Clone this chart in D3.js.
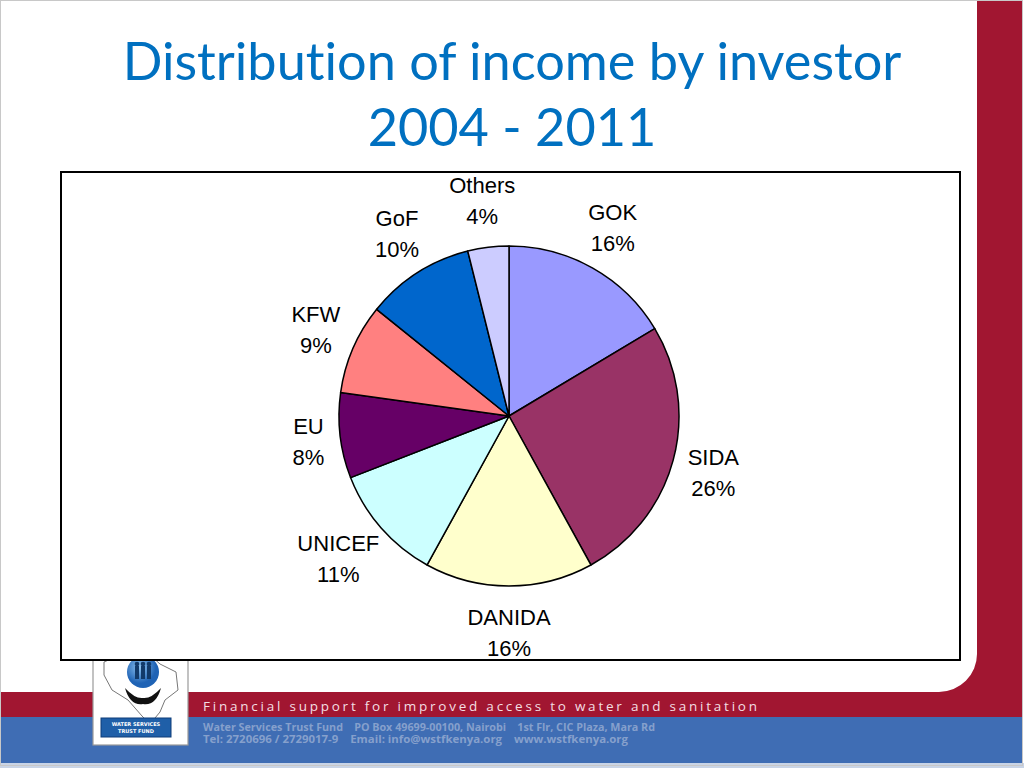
<!DOCTYPE html>
<html>
<head>
<meta charset="utf-8">
<script src="https://cdn.jsdelivr.net/npm/d3@7"></script>
<style>
html,body{margin:0;padding:0;background:#fff;}
svg{display:block;}
text{font-variant-ligatures:none;font-feature-settings:"liga" 0,"clig" 0;}
</style>
</head>
<body>
<svg id="c" width="1024" height="768"></svg>
<script>
// ---- data ----
const titleLines = ["Distribution of income by investor", "2004 - 2011"];
const investors = ["GOK", "SIDA", "DANIDA", "UNICEF", "EU", "KFW", "GoF", "Others"];
const shares = [16.4, 25.6, 16.0, 11.1, 8.1, 8.6, 10.3, 3.9];
const sliceColors = ["#9999FF", "#993366", "#FFFFCC", "#CCFFFF", "#660066", "#FF8080", "#0066CC", "#CCCCFF"];
const footerTagline = "Financial support for improved access to water and sanitation";
const footerLines = [
  "Water Services Trust Fund    PO Box 49699-00100, Nairobi    1st Flr, CIC Plaza, Mara Rd",
  "Tel: 2720696 / 2729017-9    Email: info@wstfkenya.org    www.wstfkenya.org"
];

const svg = d3.select("#c");
const W = 1024, H = 768;
const red = "#A11631", blue = "#3F6DB4";

// ---- slide background & frame ----
svg.append("rect").attr("x", 0).attr("y", 0).attr("width", W).attr("height", H).attr("fill", "#fff");
svg.append("rect").attr("x", 0).attr("y", 692).attr("width", 1022).attr("height", 26).attr("fill", red);
svg.append("rect").attr("x", 977).attr("y", 1).attr("width", 45).attr("height", 717).attr("fill", red);
// rounded corner of the white content area
const cr = 38;
svg.append("path")
  .attr("d", `M977,${692 - cr} L977,692 L${977 - cr},692 A${cr},${cr} 0 0 0 977,${692 - cr} Z`)
  .attr("fill", red);
// blue band
svg.append("rect").attr("x", 0).attr("y", 717).attr("width", 1022).attr("height", 46).attr("fill", blue);
svg.append("rect").attr("x", 0).attr("y", 763).attr("width", 1024).attr("height", 5).attr("fill", "#c9d4e6");
// thin slide border
svg.append("rect").attr("x", 0.5).attr("y", 0.5).attr("width", 1022).attr("height", 765)
  .attr("fill", "none").attr("stroke", "#c8c8c8").attr("stroke-width", 1);

// ---- footer texts ----
svg.append("text").attr("x", 203).attr("y", 711)
  .attr("font-family", "'Open Sans', sans-serif").attr("font-size", 13.5)
  .attr("fill", "#f3dfe3")
  .attr("textLength", 554).attr("lengthAdjust", "spacing")
  .text(footerTagline);
footerLines.forEach((t, i) => {
  svg.append("text").attr("x", 203).attr("y", 731 + i * 12)
    .attr("font-family", "'Open Sans', sans-serif").attr("font-size", 10).attr("font-weight", "bold")
    .attr("fill", "#86a0cc").attr("xml:space", "preserve")
    .attr("textLength", i === 0 ? 452 : 425).attr("lengthAdjust", "spacingAndGlyphs")
    .text(t);
});

// ---- logo ----
const logo = svg.append("g");
logo.append("rect").attr("x", 93).attr("y", 640).attr("width", 95).attr("height", 105)
  .attr("fill", "#fff").attr("stroke", "#9a9a9a").attr("stroke-width", 1.2);
logo.append("path")
  .attr("d", "M104,662 L120,655 L150,655 L160,664 L176,672 L178,690 L165,700 L160,712 L150,724 L142,716 L128,700 L112,690 L104,675 Z")
  .attr("fill", "none").attr("stroke", "#777").attr("stroke-width", 1);
const grad = svg.append("defs").append("radialGradient").attr("id", "lg").attr("cx", "40%").attr("cy", "35%");
grad.append("stop").attr("offset", "0%").attr("stop-color", "#8ec3f0");
grad.append("stop").attr("offset", "100%").attr("stop-color", "#1f63b5");
logo.append("circle").attr("cx", 143).attr("cy", 672).attr("r", 16).attr("fill", "url(#lg)");
[137, 143, 149].forEach(x => {
  logo.append("rect").attr("x", x - 2).attr("y", 666).attr("width", 4).attr("height", 13).attr("fill", "#123a6a");
  logo.append("circle").attr("cx", x).attr("cy", 664).attr("r", 2.3).attr("fill", "#123a6a");
});
logo.append("path").attr("d", "M125,688 Q130,706 143,704 Q156,706 161,688 Q151,699 143,698 Q135,699 125,688 Z")
  .attr("fill", "#111");
logo.append("rect").attr("x", 101).attr("y", 718).attr("width", 70).attr("height", 19).attr("fill", "#1f5fa8")
  .attr("stroke", "#0e3d78").attr("stroke-width", 1);
logo.append("text").attr("x", 136).attr("y", 726).attr("text-anchor", "middle")
  .attr("font-family", "'DejaVu Sans', sans-serif").attr("font-size", 5).attr("font-weight", "bold").attr("fill", "#fff")
  .text("WATER SERVICES");
logo.append("text").attr("x", 136).attr("y", 733).attr("text-anchor", "middle")
  .attr("font-family", "'DejaVu Sans', sans-serif").attr("font-size", 5).attr("font-weight", "bold").attr("fill", "#fff")
  .text("TRUST FUND");

// ---- title ----
const titleTargets = [{w: 779, base: 80}, {w: 268, base: 146}];
let titleFs = 54;
titleLines.forEach((t, i) => {
  const tx = svg.append("text").attr("x", 512).attr("y", titleTargets[i].base)
    .attr("text-anchor", "middle")
    .attr("font-family", "Lato, 'Open Sans', sans-serif")
    .attr("font-size", 54).attr("fill", "#0070C0").text(t);
  const len = tx.node().getComputedTextLength();
  if (i === 0) titleFs = 54 * titleTargets[0].w / len;
  tx.attr("font-size", titleFs);
});

// ---- chart box ----
svg.append("rect").attr("x", 61).attr("y", 172).attr("width", 899).attr("height", 488)
  .attr("fill", "#fff").attr("stroke", "#000").attr("stroke-width", 2);

// ---- pie ----
const cx = 509, cy = 416, R = 170;
const data = investors.map((name, i) => ({name, value: shares[i], color: sliceColors[i]}));
const pie = d3.pie().sort(null).value(d => d.value);
const arcs = pie(data);
const arc = d3.arc().innerRadius(0).outerRadius(R);
const g = svg.append("g").attr("transform", `translate(${cx},${cy})`);
g.selectAll("path.slice").data(arcs).join("path")
  .attr("class", "slice")
  .attr("d", arc)
  .attr("fill", d => d.data.color)
  .attr("stroke", "#000").attr("stroke-width", 1.5).attr("stroke-linejoin", "round");

// ---- labels ----
const fs = 22, lineH = 31, gap = 16;
const pct = d3.format(".0f");
arcs.forEach(a => {
  const mid = (a.startAngle + a.endAngle) / 2;
  const lines = [a.data.name, pct(a.data.value) + "%"];
  const lg = g.append("g");
  const texts = lines.map(l => lg.append("text")
    .attr("text-anchor", "middle")
    .attr("font-family", "'Liberation Sans', Arial, sans-serif")
    .attr("font-size", fs).attr("fill", "#000").text(l));
  const w = d3.max(texts, t => t.node().getComputedTextLength());
  const h = lineH * lines.length;
  const px = Math.sin(mid) * (R + gap) + Math.sin(mid) * w / 2;
  const py = -Math.cos(mid) * (R + gap) - Math.cos(mid) * h / 2;
  texts.forEach((t, i) => {
    const lcy = py + (i - (lines.length - 1) / 2) * lineH;
    t.attr("x", px).attr("y", lcy + fs * 0.36);
  });
});
</script>
</body>
</html>
